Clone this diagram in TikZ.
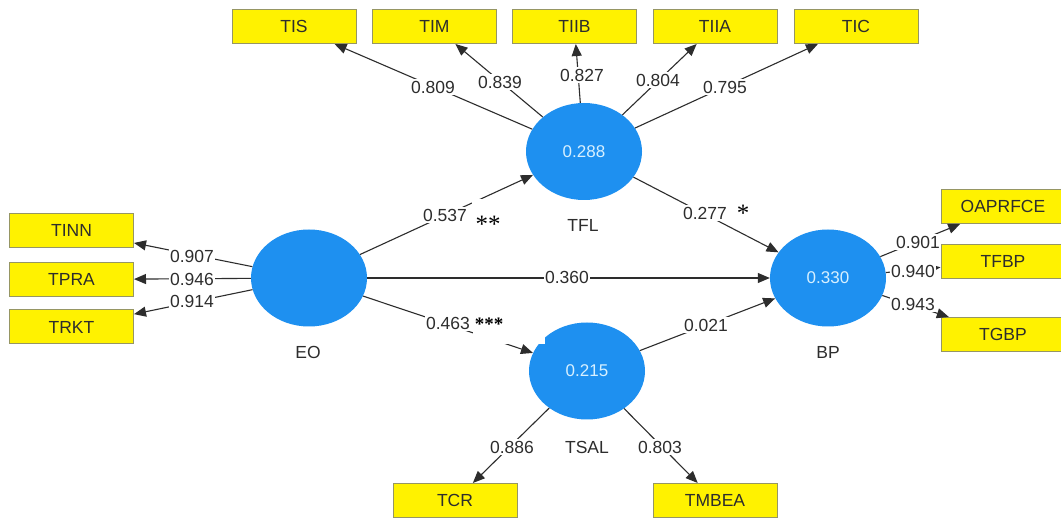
\documentclass[tikz,border=0pt]{standalone}
\usepackage{fontspec}
\setmainfont{Liberation Sans}
\newfontfamily\starfont{Liberation Serif}
\usetikzlibrary{shapes.geometric,arrows.meta}

\definecolor{lvblue}{RGB}{30,144,240}
\definecolor{lvtext}{RGB}{215,240,255}
\definecolor{boxedge}{RGB}{150,150,100}
\definecolor{inkgray}{RGB}{45,45,45}

\begin{document}
\begin{tikzpicture}[x=1pt,y=-1pt,
  indicator/.style={rectangle, fill=yellow, draw=boxedge, line width=1pt,
    minimum width=124pt, minimum height=34pt, inner sep=0pt,
    font=\fontsize{17.5}{20}\selectfont, text=inkgray},
  latent/.style={ellipse, fill=lvblue, minimum width=116pt, minimum height=97pt,
    inner sep=0pt, font=\fontsize{17}{20}\selectfont, text=lvtext},
  link/.style={draw=inkgray, line width=1.1pt, -{Triangle[length=12pt,width=10pt]}},
  coef/.style={fill=white, inner sep=1.5pt, font=\fontsize{17.5}{20}\selectfont, text=inkgray},
  lvname/.style={font=\fontsize{17.5}{20}\selectfont, text=inkgray},
  star/.style={font=\starfont\fontsize{25}{28}\selectfont, text=black, inner sep=0pt},
  boldstar/.style={font=\starfont\bfseries\fontsize{19}{22}\selectfont, text=black, inner sep=0pt}]

\fill[white] (0,0) rectangle (1061,518);
\useasboundingbox (0,0) rectangle (1061,518);

% latent variables
\node[latent] (TFL)  at (584,151.5) {0.288};
\node[latent] (EO)   at (309,278) {};
\node[latent] (BP)   at (828,278) {0.330};
\node[latent] (TSAL) at (587,371) {0.215};

% indicators of TFL
\node[indicator] (TIS)  at (294,26.5) {TIS};
\node[indicator] (TIM)  at (434.5,26.5) {TIM};
\node[indicator] (TIIB) at (574.5,26.5) {TIIB};
\node[indicator] (TIIA) at (715,26.5) {TIIA};
\node[indicator] (TIC)  at (856,26.5) {TIC};

% indicators of EO
\node[indicator] (TINN) at (71.5,230.5) {TINN};
\node[indicator] (TPRA) at (71.5,279.5) {TPRA};
\node[indicator] (TRKT) at (71.5,327) {TRKT};

% indicators of BP
\node[indicator] (OAPRFCE) at (1003,206.5) {OAPRFCE};
\node[indicator] (TFBP)    at (1003,261.5) {TFBP};
\node[indicator] (TGBP)    at (1003,334.5) {TGBP};

% indicators of TSAL
\node[indicator] (TCR)   at (455,500.5) {TCR};
\node[indicator] (TMBEA) at (715,500.5) {TMBEA};

% outer loadings
\draw[link] (TFL) -- (TIS);
\draw[link] (TFL) -- (TIM);
\draw[link] (TFL) -- (TIIB);
\draw[link] (TFL) -- (TIIA);
\draw[link] (TFL) -- (TIC);
\draw[link] (EO) -- (TINN);
\draw[link] (EO) -- (TPRA);
\draw[link] (EO) -- (TRKT);
\draw[link] (BP) -- (OAPRFCE);
\draw[link] (BP) -- (TFBP);
\draw[link] (BP) -- (TGBP);
\draw[link] (TSAL) -- (TCR);
\draw[link] (TSAL) -- (TMBEA);

% structural paths
\draw[link] (EO) -- (TFL);
\draw[link] (EO) -- (TSAL);
\draw[link] (EO) -- (BP);
\draw[link] (TFL) -- (BP);
\draw[link] (TSAL) -- (BP);

% white backing behind the significance stars
\fill[white] (472,199) rectangle (505,236);
\fill[white] (473,313) rectangle (545,344);

% loading values
\node[coef] (lTIS)  at (433,87) {0.809};
\node[coef] (lTIM)  at (500,82) {0.839};
\node[coef] (lTIIB) at (582,75) {0.827};
\node[coef] (lTIIA) at (658,80) {0.804};
\node[coef] (lTIC)  at (725,87) {0.795};
\node[coef] (lTINN) at (192,256) {0.907};
\node[coef] (lTPRA) at (192,279) {0.946};
\node[coef] (lTRKT) at (192,301) {0.914};
\node[coef] (lOAP)  at (918,242) {0.901};
\node[coef] (lTFBP) at (913,271) {0.940};
\node[coef] (lTGBP) at (913,304) {0.943};
\node[coef] (lTCR)  at (512,447) {0.886};
\node[coef] (lTMB)  at (660,447) {0.803};

% path coefficients
\node[coef] (pEOTFL)  at (445,215) {0.537};
\node[coef] (pEOTSAL) at (448,323) {0.463};
\node[coef] (pEOBP)   at (567,277) {0.360};
\node[coef] (pTFLBP)  at (705,213) {0.277};
\node[coef] (pTSALBP) at (706,325) {0.021};

% construct names
\node[lvname] (nTFL)  at (583,225) {TFL};
\node[lvname] (nEO)   at (308,352) {EO};
\node[lvname] (nBP)   at (828,352) {BP};
\node[lvname] (nTSAL) at (587,447) {TSAL};

% significance marks
\node[star] (s1) at (488,224) {**};
\node[star] (s2) at (743,213) {*};
\node[boldstar] (s3) at (489,324) {***};
\end{tikzpicture}
\end{document}
